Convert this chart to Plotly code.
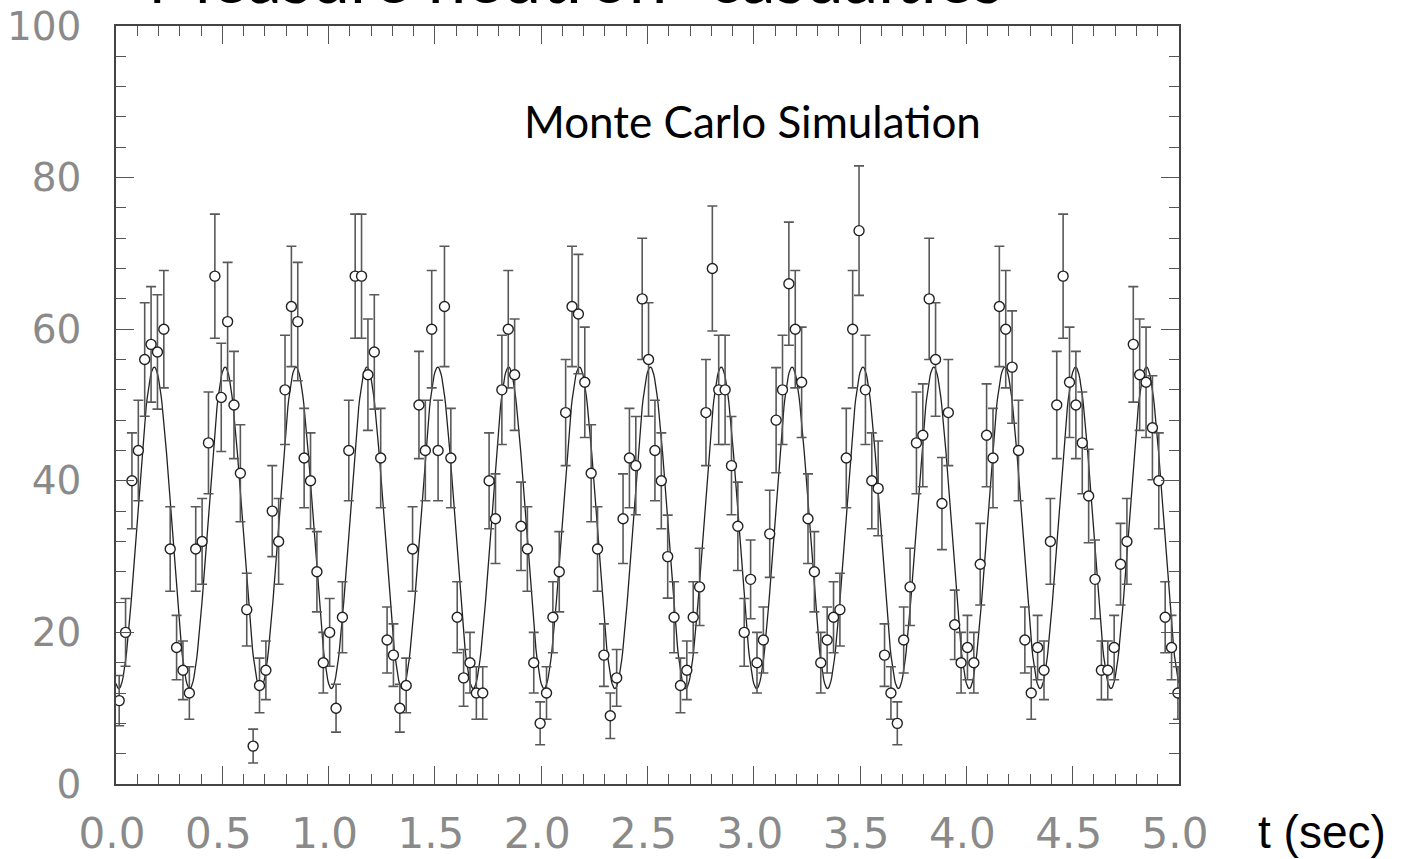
import numpy as np
import plotly.graph_objects as go

# ---- data ----
BIN_WIDTH = 0.03  # seconds per bin
counts = [
    11, 20, 40, 44, 56, 58, 57, 60, 31, 18,
    15, 12, 31, 32, 45, 67, 51, 61, 50, 41,
    23, 5, 13, 15, 36, 32, 52, 63, 61, 43,
    40, 28, 16, 20, 10, 22, 44, 67, 67, 54,
    57, 43, 19, 17, 10, 13, 31, 50, 44, 60,
    44, 63, 43, 22, 14, 16, 12, 12, 40, 35,
    52, 60, 54, 34, 31, 16, 8, 12, 22, 28,
    49, 63, 62, 53, 41, 31, 17, 9, 14, 35,
    43, 42, 64, 56, 44, 40, 30, 22, 13, 15,
    22, 26, 49, 68, 52, 52, 42, 34, 20, 27,
    16, 19, 33, 48, 52, 66, 60, 53, 35, 28,
    16, 19, 22, 23, 43, 60, 73, 52, 40, 39,
    17, 12, 8, 19, 26, 45, 46, 64, 56, 37,
    49, 21, 16, 18, 16, 29, 46, 43, 63, 60,
    55, 44, 19, 12, 18, 15, 32, 50, 67, 53,
    50, 45, 38, 27, 15, 15, 18, 29, 32, 58,
    54, 53, 47, 40, 22, 18, 12,
]
# bin centres and Poisson (sqrt N) error bars
t_bins = [(i + 0.5) * BIN_WIDTH for i in range(len(counts))]
errors = [c ** 0.5 for c in counts]

# fitted sinusoid parameters
FIT_OFFSET = 33.8
FIT_AMPLITUDE = 21.2
FIT_FREQ_HZ = 3.0
FIT_PEAK_T = 0.18
t_fit = np.linspace(0.0, 5.0, 1201)
y_fit = FIT_OFFSET + FIT_AMPLITUDE * np.cos(2 * np.pi * FIT_FREQ_HZ * (t_fit - FIT_PEAK_T))

X_TICKS = [0.0, 0.5, 1.0, 1.5, 2.0, 2.5, 3.0, 3.5, 4.0, 4.5, 5.0]
Y_TICKS = [0, 20, 40, 60, 80, 100]

TITLE = "Measure neutron \u201ccasualties\u201d"
NOTE = "Monte Carlo Simulation"
X_LABEL = "t (sec)"

# plot-area geometry in pixels (used only to place the free texts)
PLOT_L, PLOT_R, PLOT_T, PLOT_B = 116, 1179, 26, 784


def px_to_paper_x(px):
    return (px - PLOT_L) / (PLOT_R - PLOT_L)


def px_to_paper_y(py):
    return (PLOT_B - py) / (PLOT_B - PLOT_T)


# ---- figure ----
fig = go.Figure()
fig.add_trace(go.Scatter(
    x=t_fit, y=y_fit, mode="lines",
    line=dict(color="#222222", width=1.3),
    hoverinfo="skip", showlegend=False,
))
fig.add_trace(go.Scatter(
    x=t_bins, y=counts, mode="markers",
    marker=dict(symbol="circle", size=10, color="white",
                line=dict(color="#222222", width=1.4)),
    error_y=dict(type="data", array=errors, visible=True,
                 color="#595959", thickness=1.6, width=5),
    showlegend=False,
))

tick_font_x = dict(family="DejaVu Sans, Liberation Sans, sans-serif", size=42, color="#8a8a8a")
tick_font_y = dict(family="DejaVu Sans, Liberation Sans, sans-serif", size=39, color="#8a8a8a")

fig.update_xaxes(
    range=[0, 5], tickmode="array", tickvals=X_TICKS,
    ticktext=[f"{v:.1f}" for v in X_TICKS],
    ticks="inside", ticklen=18, tickwidth=1.3, tickcolor="#555555",
    showline=True, linecolor="#444444", linewidth=1.5, mirror="allticks",
    showgrid=False, zeroline=False, tickfont=tick_font_x, automargin=False,
    ticklabelstandoff=12, ticklabelshift=-4,
    minor=dict(dtick=0.1, tick0=0, ticks="inside", ticklen=10,
               tickwidth=1.2, tickcolor="#555555", showgrid=False),
)
fig.update_yaxes(
    range=[0, 100], tickmode="array", tickvals=Y_TICKS,
    ticktext=[str(v) for v in Y_TICKS],
    ticks="inside", ticklen=18, tickwidth=1.3, tickcolor="#555555",
    showline=True, linecolor="#444444", linewidth=1.5, mirror="allticks",
    showgrid=False, zeroline=False, tickfont=tick_font_y, automargin=False,
    ticklabelstandoff=25,
    minor=dict(dtick=4, tick0=0, ticks="inside", ticklen=10,
               tickwidth=1.2, tickcolor="#555555", showgrid=False),
)

fig.update_layout(
    width=1421, height=859,
    margin=dict(l=PLOT_L, r=1421 - PLOT_R, t=PLOT_T, b=859 - PLOT_B, pad=0, autoexpand=False),
    paper_bgcolor="white", plot_bgcolor="white",
    showlegend=False,
    annotations=[
        dict(text=TITLE, xref="paper", yref="paper",
             x=px_to_paper_x(588), y=px_to_paper_y(20),
             xanchor="center", yanchor="bottom", showarrow=False,
             font=dict(family="Lato, Open Sans, sans-serif", size=69, color="black")),
        dict(text=NOTE, xref="paper", yref="paper",
             x=px_to_paper_x(752), y=px_to_paper_y(149),
             xanchor="center", yanchor="bottom", showarrow=False,
             font=dict(family="Lato, Open Sans, sans-serif", size=44, color="black")),
        dict(text=X_LABEL, xref="paper", yref="paper",
             x=px_to_paper_x(1256), y=px_to_paper_y(832),
             xanchor="left", yanchor="middle", showarrow=False,
             font=dict(family="Liberation Sans, Arial, sans-serif", size=46, color="black")),
    ],
)

fig.write_html("out.html")
